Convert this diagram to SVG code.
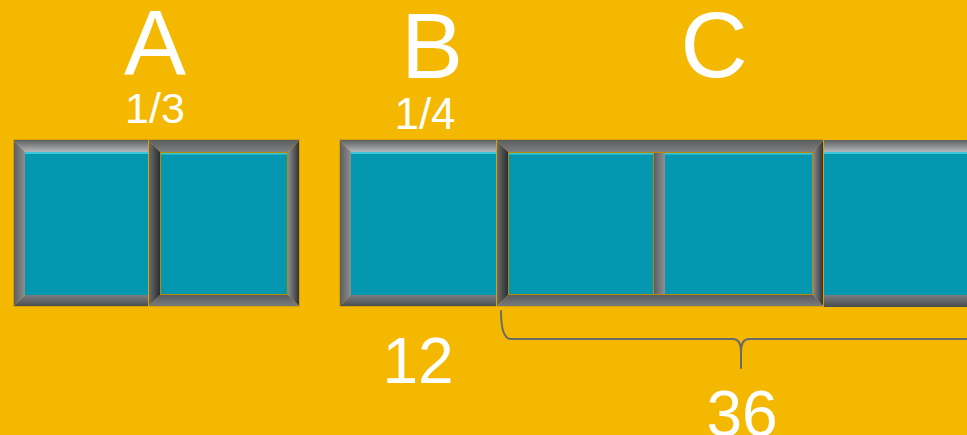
<svg xmlns="http://www.w3.org/2000/svg" width="967" height="435" viewBox="0 0 967 435">
<defs>
<linearGradient id="bTop" x1="0" y1="0" x2="0" y2="1"><stop offset="0" stop-color="#5e5f61"/><stop offset="0.85" stop-color="#a9aaac"/><stop offset="1" stop-color="#b4b5b7"/></linearGradient>
<linearGradient id="bLeft" x1="0" y1="0" x2="1" y2="0"><stop offset="0" stop-color="#58595b"/><stop offset="1" stop-color="#8e8f91"/></linearGradient>
<linearGradient id="bBottom" x1="0" y1="0" x2="0" y2="1"><stop offset="0" stop-color="#7b7c7e"/><stop offset="1" stop-color="#4a4b4d"/></linearGradient>
<linearGradient id="fTop" x1="0" y1="0" x2="0" y2="1"><stop offset="0" stop-color="#5c5d5f"/><stop offset="1" stop-color="#7e7f81"/></linearGradient>
<linearGradient id="fLeft" x1="0" y1="0" x2="1" y2="0"><stop offset="0" stop-color="#707173"/><stop offset="1" stop-color="#2c2d2f"/></linearGradient>
<linearGradient id="fRight" x1="0" y1="0" x2="1" y2="0"><stop offset="0" stop-color="#8a8b8d"/><stop offset="1" stop-color="#2a2b2d"/></linearGradient>
<linearGradient id="fBottom" x1="0" y1="0" x2="0" y2="1"><stop offset="0" stop-color="#5a5b5d"/><stop offset="1" stop-color="#7c7d7f"/></linearGradient>
<linearGradient id="div" x1="0" y1="0" x2="1" y2="0"><stop offset="0" stop-color="#5d5e60"/><stop offset="1" stop-color="#8f9092"/></linearGradient>
</defs>
<style>
.bg{fill:#f5b800}
.teal{fill:#0398b0}
.cell{fill:#0398b0;stroke:#b88a00;stroke-width:1}
.hl{fill:#3cc6d8}
.edge{fill:none;stroke:#d9a200;stroke-width:1}
.big{font-family:"Liberation Sans",Arial,sans-serif;fill:#ffffff;text-anchor:middle}
.brace{fill:none;stroke:#6a6a6a;stroke-width:2;stroke-linecap:round;stroke-linejoin:round}
</style>
<rect class="bg" x="0" y="0" width="967" height="435"/>

<g id="nodeA1">
<rect class="teal" x="25" y="152" width="123" height="143"/>
<rect class="hl" x="25" y="152" width="123" height="2"/>
<polygon points="13,140 148,140 148,152 25,152" fill="url(#bTop)"/>
<polygon points="13,140 25,152 25,295 13,307" fill="url(#bLeft)"/>
<polygon points="13,307 25,295 148,295 148,307" fill="url(#bBottom)"/>
<rect class="edge" x="13.5" y="139.5" width="135" height="167"/>
</g>

<g id="nodeA2">
<polygon points="148,140 300,140 288,152 160,152" fill="url(#fTop)"/>
<polygon points="148,140 160,152 160,295 148,307" fill="url(#fLeft)"/>
<polygon points="300,140 300,307 288,295 288,152" fill="url(#fRight)"/>
<polygon points="148,307 160,295 288,295 300,307" fill="url(#fBottom)"/>
<rect class="cell" x="160.5" y="152.5" width="127" height="142"/>
<rect class="hl" x="161" y="153" width="126" height="1.5"/>
<rect class="edge" x="148.5" y="139.5" width="151" height="167"/>
</g>

<g id="nodeB">
<rect class="teal" x="351" y="152" width="145" height="143"/>
<rect class="hl" x="351" y="152" width="145" height="2"/>
<polygon points="339,140 496,140 496,152 351,152" fill="url(#bTop)"/>
<polygon points="339,140 351,152 351,295 339,307" fill="url(#bLeft)"/>
<polygon points="339,307 351,295 496,295 496,307" fill="url(#bBottom)"/>
<rect class="edge" x="339.5" y="139.5" width="157" height="167"/>
</g>

<g id="nodeC">
<polygon points="496,140 824,140 813,152 508,152" fill="url(#fTop)"/>
<polygon points="496,140 508,152 508,295 496,307" fill="url(#fLeft)"/>
<polygon points="824,140 824,307 813,295 813,152" fill="url(#fRight)"/>
<polygon points="496,307 508,295 813,295 824,307" fill="url(#fBottom)"/>
<rect class="cell" x="508.5" y="152.5" width="145" height="142"/>
<rect class="hl" x="509" y="153" width="144" height="1.5"/>
<rect class="cell" x="653.5" y="152.5" width="159" height="142"/>
<rect class="hl" x="665" y="153" width="147" height="1.5"/>
<rect x="654" y="153" width="11" height="141" fill="url(#div)"/>
<rect class="edge" x="496.5" y="139.5" width="327" height="167"/>
</g>

<g id="nodeD">
<rect class="teal" x="824" y="152" width="143" height="143"/>
<rect class="hl" x="824" y="152" width="143" height="2"/>
<rect x="824" y="140" width="143" height="12" fill="url(#bTop)"/>
<rect x="824" y="295" width="143" height="12" fill="url(#bBottom)"/>
</g>

<g id="connectors">
<path class="brace" d="M501,311 Q501,339 511,339 L733,339 Q741,339 741,352 L741,368 M741,352 Q741,339 749,339 L967,339"/>
</g>

<g id="labels">
<text class="big" x="155" y="75" font-size="93">A</text>
<text class="big" x="155" y="123" font-size="43">1/3</text>
<text class="big" x="425" y="129" font-size="44">1/4</text>
<text class="big" x="432" y="78" font-size="93">B</text>
<text class="big" x="714" y="77" font-size="93">C</text>
<text class="big" x="418" y="383" font-size="64">12</text>
<text class="big" x="742" y="436" font-size="64">36</text>
</g>
</svg>
